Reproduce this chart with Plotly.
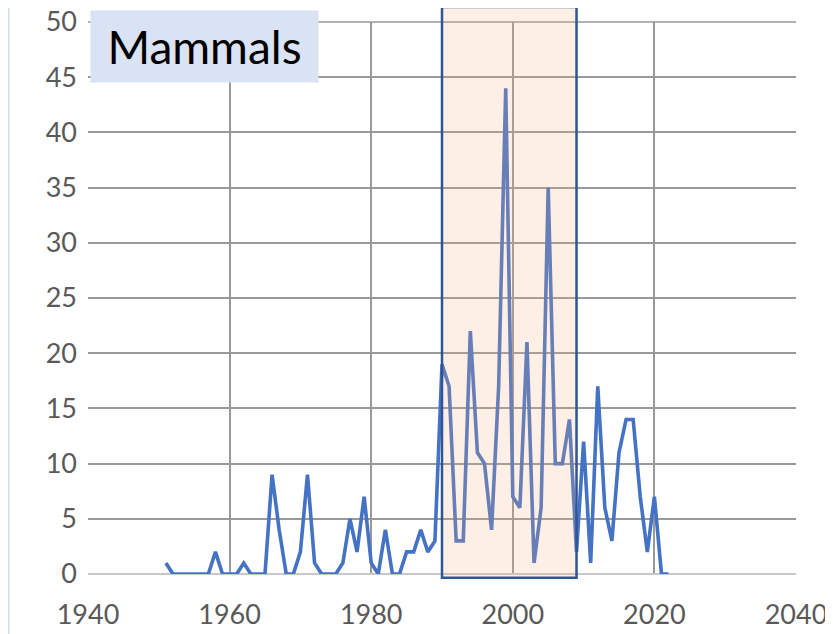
import plotly.graph_objects as go

years = [1951, 1952, 1953, 1954, 1955, 1956, 1957, 1958, 1959, 1960,
         1961, 1962, 1963, 1964, 1965, 1966, 1967, 1968, 1969, 1970,
         1971, 1972, 1973, 1974, 1975, 1976, 1977, 1978, 1979, 1980,
         1981, 1982, 1983, 1984, 1985, 1986, 1987, 1988, 1989, 1990,
         1991, 1992, 1993, 1994, 1995, 1996, 1997, 1998, 1999, 2000,
         2001, 2002, 2003, 2004, 2005, 2006, 2007, 2008, 2009, 2010,
         2011, 2012, 2013, 2014, 2015, 2016, 2017, 2018, 2019, 2020,
         2021, 2022]
counts = [1, 0, 0, 0, 0, 0, 0, 2, 0, 0,
          0, 1, 0, 0, 0, 9, 4, 0, 0, 2,
          9, 1, 0, 0, 0, 1, 5, 2, 7, 1,
          0, 4, 0, 0, 2, 2, 4, 2, 3, 19,
          17, 3, 3, 22, 11, 10, 4, 17, 44, 7,
          6, 21, 1, 6, 35, 10, 10, 14, 2, 12,
          1, 17, 6, 3, 11, 14, 14, 7, 2, 7,
          0, 0]
highlight = [1990, 2009]
label = "Mammals"

FONT = "Lato, 'Open Sans', sans-serif"
GRID = "#999999"

fig = go.Figure()
fig.add_trace(go.Scatter(x=years, y=counts, mode="lines",
                         line=dict(color="#4472C4", width=3.6),
                         showlegend=False, hoverinfo="skip", cliponaxis=False))

# top edge gridline (plotly drops the one at the range end here)
fig.add_shape(type="line", xref="paper", yref="paper",
              x0=0, x1=1, y0=1, y1=1,
              line=dict(color=GRID, width=1.5), layer="below")
# highlighted period, drawn over the line so it tints it
fig.add_shape(type="rect", xref="x", yref="paper",
              x0=highlight[0], x1=highlight[1], y0=-0.007, y1=1.027,
              fillcolor="rgba(244,177,131,0.2)",
              line=dict(color="#2F5597", width=2.5), layer="above")
# faint chart border on the left
fig.add_shape(type="line", xref="paper", yref="paper",
              x0=-0.112, x1=-0.112, y0=-0.11, y1=1.03,
              line=dict(color="#D6DCE5", width=1.5))

fig.add_annotation(text=label, xref="paper", yref="paper",
                   x=0.003, y=1.022, xanchor="left", yanchor="top",
                   showarrow=False, bgcolor="#DAE3F3",
                   width=225, height=69,
                   font=dict(family=FONT, size=46, color="black"))

fig.update_xaxes(range=[1940, 2040], tickvals=[1940, 1960, 1980, 2000, 2020, 2040],
                 showgrid=True, gridcolor=GRID, gridwidth=1.5,
                 zeroline=False, showline=False, ticks="", automargin=False,
                 ticklabelstandoff=22, ticklabeloverflow="allow",
                 tickfont=dict(family=FONT, size=27, color="#595959"))
fig.update_yaxes(range=[0, 50], tickvals=[0, 5, 10, 15, 20, 25, 30, 35, 40, 45, 50],
                 showgrid=True, gridcolor=GRID, gridwidth=1.5,
                 zeroline=True, zerolinecolor="#C8C8C8", zerolinewidth=2,
                 ticks="", ticklabelstandoff=10, automargin=False,
                 ticklabeloverflow="allow",
                 tickfont=dict(family=FONT, size=27, color="#595959"))
fig.update_layout(width=825, height=626, template="none",
                  plot_bgcolor="white", paper_bgcolor="white",
                  margin=dict(l=80, r=37, t=14, b=60))
fig.write_html("out.html")
